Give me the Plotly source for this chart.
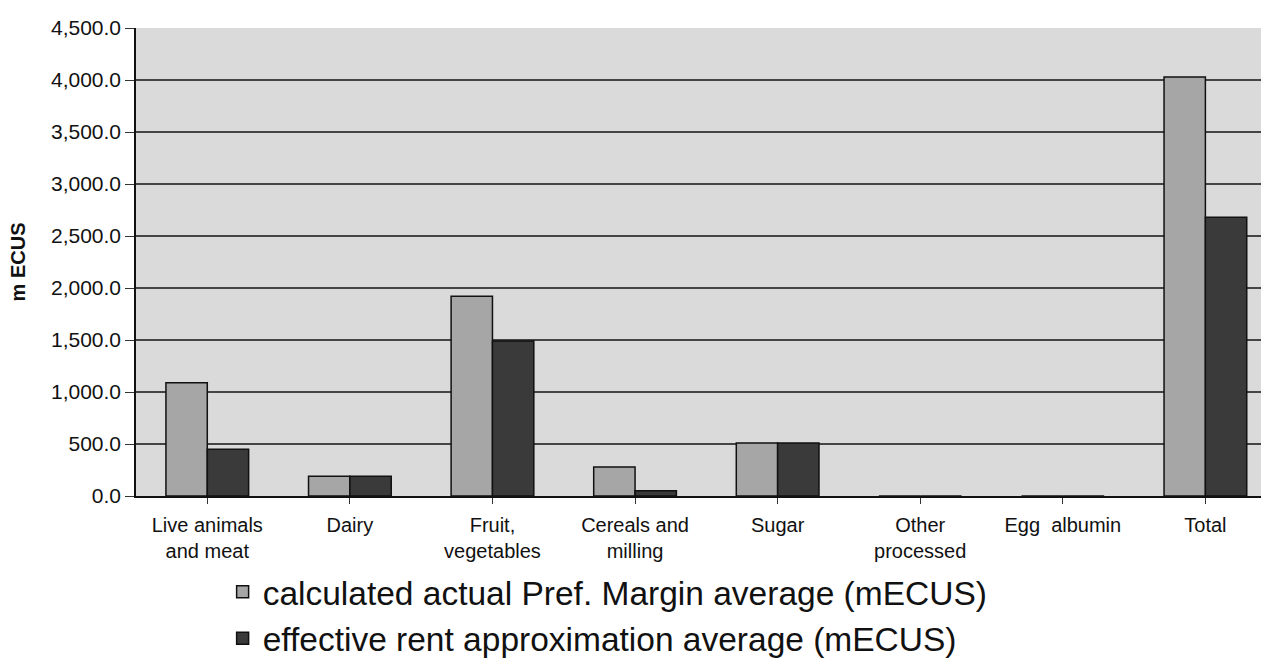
import plotly.graph_objects as go

categories = ["Live animals<br>and meat", "Dairy", "Fruit,<br>vegetables", "Cereals and<br>milling",
              "Sugar", "Other<br>processed", "Egg  albumin", "Total"]
pref_margin = [1090, 190, 1920, 280, 510, 0, 0, 4030]
effective_rent = [450, 190, 1490, 50, 510, 0, 0, 2680]
series_names = ["calculated actual Pref. Margin average (mECUS)",
                "effective rent approximation average (mECUS)"]
y_ticks = [0, 500, 1000, 1500, 2000, 2500, 3000, 3500, 4000, 4500]

FONT = "Liberation Sans, Arial, sans-serif"

fig = go.Figure()
fig.add_trace(go.Bar(x=list(range(len(categories))), y=pref_margin, name=series_names[0],
                     marker=dict(color="#a6a6a6", line=dict(color="#111111", width=1.5))))
fig.add_trace(go.Bar(x=list(range(len(categories))), y=effective_rent, name=series_names[1],
                     marker=dict(color="#3a3a3a", line=dict(color="#111111", width=1.5))))

fig.update_layout(
    width=1261, height=662,
    margin=dict(l=136, r=0, t=28, b=166, autoexpand=False),
    paper_bgcolor="white", plot_bgcolor="#dadada",
    barmode="group", bargap=0.42, bargroupgap=0,
    font=dict(family=FONT, color="#111111", size=20),
    legend=dict(x=0.077, xanchor="left", y=0.149, yanchor="top", yref="container",
                font=dict(size=33.5, family=FONT), bgcolor="rgba(0,0,0,0)",
                itemwidth=30),
    showlegend=True,
)
fig.update_xaxes(
    tickmode="array", tickvals=list(range(len(categories))), ticktext=categories,
    range=[-0.5, 7.39], showgrid=False, showline=True, linecolor="#111111", linewidth=1.5,
    ticks="outside", tickson="boundaries", ticklen=6, tickcolor="#333333",
    tickfont=dict(size=20, family=FONT), ticklabelstandoff=4, fixedrange=True,
)
fig.update_yaxes(
    range=[0, 4500], tickvals=y_ticks, tickformat=",.1f",
    showgrid=True, gridcolor="#444444", gridwidth=1.5,
    showline=True, linecolor="#111111", linewidth=1.5,
    ticks="outside", ticklen=9, tickcolor="#333333",
    tickfont=dict(size=21, family=FONT),
    title=dict(text="<b>m ECUS</b>", font=dict(size=20, family=FONT), standoff=20),
    zeroline=False, fixedrange=True,
)

fig.write_html("out.html", config={"displayModeBar": False},
               post_script="document.body.style.margin='0';document.body.style.overflow='hidden';")
